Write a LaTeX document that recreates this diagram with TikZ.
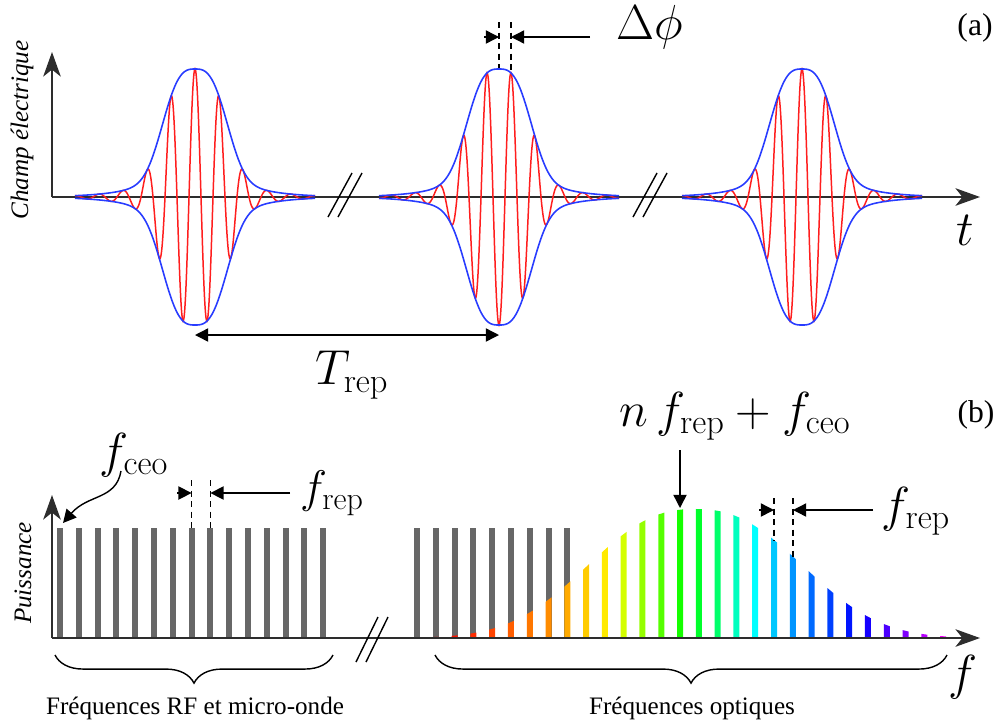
\RequirePackage{fix-cm}
\documentclass[tikz,border=0pt]{standalone}
\usepackage{amsmath}
\usepackage[no-math]{fontspec}
\setmainfont{Liberation Serif}
\usepackage{tikz}
\usetikzlibrary{arrows.meta,decorations.pathreplacing}

\definecolor{envblue}{RGB}{40,60,255}
\definecolor{carred}{RGB}{255,30,30}
\definecolor{combgray}{RGB}{103,103,103}
\definecolor{axisgray}{RGB}{45,45,45}

\tikzset{
  axisline/.style={axisgray,line width=1.1pt,-{Stealth[length=14pt,width=10pt,inset=4pt]}},
  guide/.style={line width=0.7pt,dash pattern=on 3.5pt off 2.5pt},
  breakmark/.style={line width=0.8pt},
  mathlbl/.style={font=\fontsize{28}{32}\selectfont},
  smallmath/.style={font=\fontsize{26}{30}\selectfont},
  txtlbl/.style={font=\fontsize{14.3}{17}\selectfont},
  tag/.style={font=\fontsize{18}{22}\selectfont},
  bracket/.style={line width=0.8pt,decorate,decoration={brace,mirror,amplitude=16pt}},
}

\begin{document}
\begin{tikzpicture}[x=0.02cm,y=-0.02cm,>={Triangle[length=7.5pt,width=7.5pt]},line width=0.8pt,
  declare function={
    core(\u)=exp(-pow((abs(\u)+0.01)/36.1,2.73));
    tail(\u)=0.52*exp(-abs(\u)/30.7);
    env(\u)=128*(core(\u)+(1-core(\u))*tail(\u));
    spec(\u)=129*exp(-pow((abs(\u-14.8)+0.001)/7.2,2.4));
  }]
 \useasboundingbox (0,0) rectangle (999,724);

 % (a) time domain
 \coordinate (oa) at (52,197);
 \coordinate (p1) at (195,197);
 \coordinate (p2) at (499,197);
 \coordinate (p3) at (802,197);
 \draw[axisline] (oa) -- (980,197);
 \draw[axisline] (oa) -- (52,52);
 \foreach \c/\s in {195/1,499/-1,802/1}{
   \draw[carred,line width=0.85pt] plot[domain=-120:120,samples=481,smooth] ({\c+\x},{197-\s*env(\x)*cos(15*\x)});
   \draw[envblue,line width=0.9pt] plot[domain=-120:120,samples=241,smooth] ({\c+\x},{197-env(\x)});
   \draw[envblue,line width=0.9pt] plot[domain=-120:120,samples=241,smooth] ({\c+\x},{197+env(\x)});
 }
 \foreach \b in {328,633}{
   \draw[breakmark] (\b,217) -- (\b+24,173);
   \draw[breakmark] (\b+10,217) -- (\b+34,173);
 }
 \node[txtlbl,rotate=90] (champ) at (22,130) {\itshape Champ électrique};
 \node[mathlbl] (tlbl) at (965,230) {$t$};
 \node[tag] (atag) at (975,28) {(a)};

 \coordinate (tr1) at (195,335);
 \coordinate (tr2) at (499,335);
 \draw[<->] (tr1) -- (tr2);
 \node[mathlbl] (trep) at (352,375) {$T_{\mathrm{rep}}$};

 \coordinate (dp1) at (499,37);
 \coordinate (dp2) at (511,37);
 \draw[guide] (499,22) -- (499,68);
 \draw[guide] (511,22) -- (511,74);
 \draw[->] (484,37) -- (dp1);
 \draw[->] (590,37) -- (dp2);
 \node[mathlbl] (dphi) at (650,27) {$\Delta\phi$};

 % (b) frequency domain
 \coordinate (ob) at (52,638);
 \foreach \k in {0,...,14}
   \fill[combgray] ({60+18.8*\k-3},638) rectangle ++(6,-110);
 \foreach \k in {0,...,8}
   \fill[combgray] ({417+18.79*\k-3},638) rectangle ++(6,-110);
 \foreach \k/\hue in {1/0,2/5,3/10,4/16,5/22,6/28,7/33,8/40,9/48,10/55,11/70,12/85,13/100,14/115,15/130,
                      16/145,17/165,18/180,19/193,20/205,21/215,22/225,23/235,24/245,25/258,26/270,27/283,28/298}{
   \definecolor{barcol}{Hsb}{\hue,1,1}
   \pgfmathsetmacro\xk{417+18.79*\k}
   \fill[barcol] ({\xk-3},638) -- ({\xk-3},{638-spec(\k-0.16)}) -- ({\xk+3},{638-spec(\k+0.16)}) -- ({\xk+3},638) -- cycle;
 }
 \draw[axisline] (ob) -- (980,638);
 \draw[axisline] (ob) -- (52,495);
 \draw[breakmark] (356,662) -- (378,617);
 \draw[breakmark] (366,662) -- (388,617);
 \node[txtlbl,rotate=90] (puis) at (23,573) {\itshape Puissance};
 \node[mathlbl] (flbl) at (963,677) {$f$};
 \node[tag] (btag) at (976,415) {(b)};

 \node[mathlbl] (fceo) at (134,455) {$f_{\mathrm{ceo}}$};
 \coordinate (fc) at (63,523);
 \draw[->] (121,471) .. controls (116,500) and (88,494) .. (fc);

 \coordinate (fr1) at (191.6,493);
 \coordinate (fr2) at (210.4,493);
 \draw[guide] (191.6,480) -- (191.6,528);
 \draw[guide] (210.4,480) -- (210.4,528);
 \draw[->] (177,493) -- (fr1);
 \draw[->] (290,493) -- (fr2);
 \node[smallmath] (frepa) at (332,493) {$f_{\mathrm{rep}}$};

 \coordinate (nk) at (680,508);
 \draw[->] (680,450) -- (nk);
 \node[mathlbl] (comb) at (735,416) {$n\,f_{\mathrm{rep}}+f_{\mathrm{ceo}}$};

 \coordinate (fo1) at (774,510);
 \coordinate (fo2) at (793,510);
 \draw[guide] (774,498) -- (774,541);
 \draw[guide] (793,498) -- (793,557);
 \draw[->] (759,510) -- (fo1);
 \draw[->] (873,510) -- (fo2);
 \node[mathlbl] (frepb) at (916,511) {$f_{\mathrm{rep}}$};

 \draw[bracket] (55,655) -- (333,655) coordinate[midway] (rfmid);
 \draw[bracket] (435,655) -- (947,655) coordinate[midway] (optmid);
 \node[txtlbl] (rftxt) at (195,708) {Fréquences RF et micro-onde};
 \node[txtlbl] (opttxt) at (692,708) {Fréquences optiques};
\end{tikzpicture}
\end{document}
